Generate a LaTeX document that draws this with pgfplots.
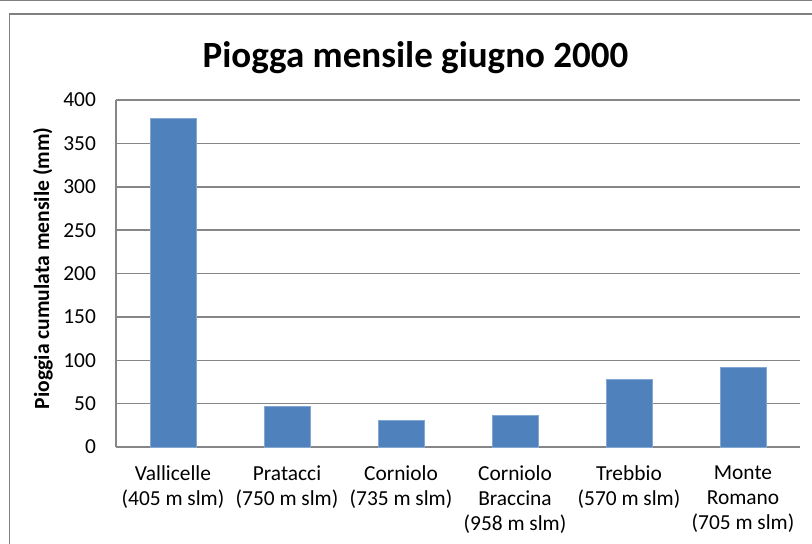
\documentclass[border=0pt]{standalone}
\usepackage{pgfplots}
\pgfplotsset{compat=1.18}
\usepackage{fontspec}
\setmainfont{Carlito}
\definecolor{barblue}{RGB}{79,129,189}
\definecolor{gridgray}{RGB}{134,134,134}
\definecolor{framegray}{RGB}{128,128,128}
\begin{document}
\begin{tikzpicture}
\useasboundingbox (0,0) rectangle (406pt,271.5pt);
% chart frame (cropped)
\draw[framegray, line width=0.6pt] (0,271.1pt) -- (406pt,271.1pt);
\draw[framegray, line width=0.6pt] (4.75pt,-5pt) -- (4.75pt,264.5pt) -- (410pt,264.5pt);
\begin{axis}[
    at={(58pt,48pt)}, anchor=south west,
    scale only axis,
    width=342pt, height=173.5pt,
    ybar, bar width=23pt,
    xmin=-0.5, xmax=5.5,
    ymin=0, ymax=400,
    xtick=data,
    xticklabels={{Vallicelle\\(405 m slm)},{Pratacci\\(750 m slm)},{Corniolo\\(735 m slm)},{Corniolo\\Braccina\\(958 m slm)},{Trebbio\\(570 m slm)},{Monte\\Romano\\(705 m slm)}},
    ytick={0,50,...,400},
    axis x line*=bottom, axis y line*=left,
    axis line style={gridgray, line width=0.75pt, -},
    major tick length=0pt,
    ymajorgrids,
    major grid style={gridgray, line width=0.75pt},
    /pgf/number format/assume math mode=true,
    tick label style={font=\fontsize{10.7}{12.5}\selectfont, black},
    xticklabel style={align=center, yshift=-6pt},
    yticklabel style={xshift=-6.5pt},
    ylabel={Pioggia cumulata mensile (mm)},
    ylabel style={at={(axis description cs:-0.107,0.515)}, anchor=center, rotate=0, font=\fontsize{10.8}{12.5}\selectfont\bfseries},
]
\addplot[fill=barblue, draw=barblue!70!white, line width=0.4pt] coordinates {(0,379) (1,47) (2,31) (3,36) (4,78) (5,92)};
\end{axis}
\node[font=\fontsize{18.5}{22}\selectfont\bfseries] at (207.75pt,242.5pt) {Piogga mensile giugno 2000};
\end{tikzpicture}
\end{document}
